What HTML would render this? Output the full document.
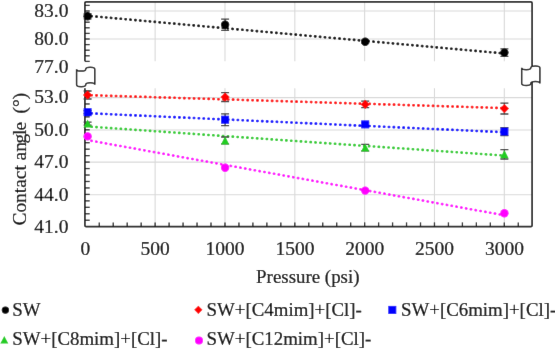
<!DOCTYPE html><html><head><meta charset="utf-8"><style>html,body{margin:0;padding:0;background:#fff;overflow:hidden;}svg{display:block;will-change:transform;}text{font-family:"Liberation Serif",serif;stroke:#000;stroke-width:0.2px;}</style></head><body>
<div id="w">
<svg width="555" height="350" viewBox="0 0 555 350">
<defs><filter id="bl" x="0" y="0" width="100%" height="100%" filterUnits="userSpaceOnUse"><feConvolveMatrix order="3" kernelMatrix="0.00276 0.04704 0.00276 0.04704 0.80077 0.04704 0.00276 0.04704 0.00276" edgeMode="duplicate" preserveAlpha="true"/></filter></defs>
<g filter="url(#bl)">
<rect x="0" y="0" width="555" height="350" fill="#fff"/>
<line x1="155.13" y1="1.8" x2="155.13" y2="61.3" stroke="#d9d9d9" stroke-width="1.1"/>
<line x1="155.13" y1="88.2" x2="155.13" y2="226.7" stroke="#d9d9d9" stroke-width="1.1"/>
<line x1="224.97" y1="1.8" x2="224.97" y2="61.3" stroke="#d9d9d9" stroke-width="1.1"/>
<line x1="224.97" y1="88.2" x2="224.97" y2="226.7" stroke="#d9d9d9" stroke-width="1.1"/>
<line x1="294.81" y1="1.8" x2="294.81" y2="61.3" stroke="#d9d9d9" stroke-width="1.1"/>
<line x1="294.81" y1="88.2" x2="294.81" y2="226.7" stroke="#d9d9d9" stroke-width="1.1"/>
<line x1="364.64" y1="1.8" x2="364.64" y2="61.3" stroke="#d9d9d9" stroke-width="1.1"/>
<line x1="364.64" y1="88.2" x2="364.64" y2="226.7" stroke="#d9d9d9" stroke-width="1.1"/>
<line x1="434.47" y1="1.8" x2="434.47" y2="61.3" stroke="#d9d9d9" stroke-width="1.1"/>
<line x1="434.47" y1="88.2" x2="434.47" y2="226.7" stroke="#d9d9d9" stroke-width="1.1"/>
<line x1="504.31" y1="1.8" x2="504.31" y2="61.3" stroke="#d9d9d9" stroke-width="1.1"/>
<line x1="504.31" y1="88.2" x2="504.31" y2="226.7" stroke="#d9d9d9" stroke-width="1.1"/>
<line x1="84.9" y1="11.00" x2="532.1" y2="11.00" stroke="#d9d9d9" stroke-width="1.1"/>
<line x1="84.9" y1="39.00" x2="532.1" y2="39.00" stroke="#d9d9d9" stroke-width="1.1"/>
<line x1="84.9" y1="97.60" x2="532.1" y2="97.60" stroke="#d9d9d9" stroke-width="1.1"/>
<line x1="84.9" y1="130.00" x2="532.1" y2="130.00" stroke="#d9d9d9" stroke-width="1.1"/>
<line x1="84.9" y1="162.10" x2="532.1" y2="162.10" stroke="#d9d9d9" stroke-width="1.1"/>
<line x1="84.9" y1="194.70" x2="532.1" y2="194.70" stroke="#d9d9d9" stroke-width="1.1"/>
<path d="M84.9,61.3 V3.1 Q84.9,1.8 86.2,1.8 H530.8000000000001 Q532.1,1.8 532.1,3.1 V70" fill="none" stroke="#1e1e1e" stroke-width="1.7"/>
<path d="M84.9,88.2 V225.39999999999998 Q84.9,226.7 86.2,226.7 H530.8000000000001 Q532.1,226.7 532.1,225.39999999999998 V80" fill="none" stroke="#1e1e1e" stroke-width="1.7"/>
<line x1="84.9" y1="5.40" x2="89.7" y2="5.40" stroke="#1e1e1e" stroke-width="1.3"/>
<line x1="84.9" y1="11.00" x2="89.7" y2="11.00" stroke="#1e1e1e" stroke-width="1.3"/>
<line x1="84.9" y1="16.60" x2="89.7" y2="16.60" stroke="#1e1e1e" stroke-width="1.3"/>
<line x1="84.9" y1="22.20" x2="89.7" y2="22.20" stroke="#1e1e1e" stroke-width="1.3"/>
<line x1="84.9" y1="27.80" x2="89.7" y2="27.80" stroke="#1e1e1e" stroke-width="1.3"/>
<line x1="84.9" y1="33.40" x2="89.7" y2="33.40" stroke="#1e1e1e" stroke-width="1.3"/>
<line x1="84.9" y1="39.00" x2="89.7" y2="39.00" stroke="#1e1e1e" stroke-width="1.3"/>
<line x1="84.9" y1="44.60" x2="89.7" y2="44.60" stroke="#1e1e1e" stroke-width="1.3"/>
<line x1="84.9" y1="50.20" x2="89.7" y2="50.20" stroke="#1e1e1e" stroke-width="1.3"/>
<line x1="84.9" y1="55.80" x2="89.7" y2="55.80" stroke="#1e1e1e" stroke-width="1.3"/>
<line x1="84.9" y1="61.40" x2="89.7" y2="61.40" stroke="#1e1e1e" stroke-width="1.3"/>
<line x1="84.9" y1="220.24" x2="89.7" y2="220.24" stroke="#1e1e1e" stroke-width="1.3"/>
<line x1="84.9" y1="213.78" x2="89.7" y2="213.78" stroke="#1e1e1e" stroke-width="1.3"/>
<line x1="84.9" y1="207.32" x2="89.7" y2="207.32" stroke="#1e1e1e" stroke-width="1.3"/>
<line x1="84.9" y1="200.86" x2="89.7" y2="200.86" stroke="#1e1e1e" stroke-width="1.3"/>
<line x1="84.9" y1="194.40" x2="89.7" y2="194.40" stroke="#1e1e1e" stroke-width="1.3"/>
<line x1="84.9" y1="187.94" x2="89.7" y2="187.94" stroke="#1e1e1e" stroke-width="1.3"/>
<line x1="84.9" y1="181.48" x2="89.7" y2="181.48" stroke="#1e1e1e" stroke-width="1.3"/>
<line x1="84.9" y1="175.02" x2="89.7" y2="175.02" stroke="#1e1e1e" stroke-width="1.3"/>
<line x1="84.9" y1="168.56" x2="89.7" y2="168.56" stroke="#1e1e1e" stroke-width="1.3"/>
<line x1="84.9" y1="162.10" x2="89.7" y2="162.10" stroke="#1e1e1e" stroke-width="1.3"/>
<line x1="84.9" y1="155.64" x2="89.7" y2="155.64" stroke="#1e1e1e" stroke-width="1.3"/>
<line x1="84.9" y1="149.18" x2="89.7" y2="149.18" stroke="#1e1e1e" stroke-width="1.3"/>
<line x1="84.9" y1="142.72" x2="89.7" y2="142.72" stroke="#1e1e1e" stroke-width="1.3"/>
<line x1="84.9" y1="136.26" x2="89.7" y2="136.26" stroke="#1e1e1e" stroke-width="1.3"/>
<line x1="84.9" y1="129.80" x2="89.7" y2="129.80" stroke="#1e1e1e" stroke-width="1.3"/>
<line x1="84.9" y1="123.34" x2="89.7" y2="123.34" stroke="#1e1e1e" stroke-width="1.3"/>
<line x1="84.9" y1="116.88" x2="89.7" y2="116.88" stroke="#1e1e1e" stroke-width="1.3"/>
<line x1="84.9" y1="110.42" x2="89.7" y2="110.42" stroke="#1e1e1e" stroke-width="1.3"/>
<line x1="84.9" y1="103.96" x2="89.7" y2="103.96" stroke="#1e1e1e" stroke-width="1.3"/>
<line x1="84.9" y1="97.50" x2="89.7" y2="97.50" stroke="#1e1e1e" stroke-width="1.3"/>
<line x1="84.9" y1="91.04" x2="89.7" y2="91.04" stroke="#1e1e1e" stroke-width="1.3"/>
<line x1="99.27" y1="226.7" x2="99.27" y2="222.39999999999998" stroke="#1e1e1e" stroke-width="1.3"/>
<line x1="113.23" y1="226.7" x2="113.23" y2="222.39999999999998" stroke="#1e1e1e" stroke-width="1.3"/>
<line x1="127.20" y1="226.7" x2="127.20" y2="222.39999999999998" stroke="#1e1e1e" stroke-width="1.3"/>
<line x1="141.17" y1="226.7" x2="141.17" y2="222.39999999999998" stroke="#1e1e1e" stroke-width="1.3"/>
<line x1="155.13" y1="226.7" x2="155.13" y2="222.39999999999998" stroke="#1e1e1e" stroke-width="1.3"/>
<line x1="169.10" y1="226.7" x2="169.10" y2="222.39999999999998" stroke="#1e1e1e" stroke-width="1.3"/>
<line x1="183.07" y1="226.7" x2="183.07" y2="222.39999999999998" stroke="#1e1e1e" stroke-width="1.3"/>
<line x1="197.04" y1="226.7" x2="197.04" y2="222.39999999999998" stroke="#1e1e1e" stroke-width="1.3"/>
<line x1="211.00" y1="226.7" x2="211.00" y2="222.39999999999998" stroke="#1e1e1e" stroke-width="1.3"/>
<line x1="224.97" y1="226.7" x2="224.97" y2="222.39999999999998" stroke="#1e1e1e" stroke-width="1.3"/>
<line x1="238.94" y1="226.7" x2="238.94" y2="222.39999999999998" stroke="#1e1e1e" stroke-width="1.3"/>
<line x1="252.90" y1="226.7" x2="252.90" y2="222.39999999999998" stroke="#1e1e1e" stroke-width="1.3"/>
<line x1="266.87" y1="226.7" x2="266.87" y2="222.39999999999998" stroke="#1e1e1e" stroke-width="1.3"/>
<line x1="280.84" y1="226.7" x2="280.84" y2="222.39999999999998" stroke="#1e1e1e" stroke-width="1.3"/>
<line x1="294.81" y1="226.7" x2="294.81" y2="222.39999999999998" stroke="#1e1e1e" stroke-width="1.3"/>
<line x1="308.77" y1="226.7" x2="308.77" y2="222.39999999999998" stroke="#1e1e1e" stroke-width="1.3"/>
<line x1="322.74" y1="226.7" x2="322.74" y2="222.39999999999998" stroke="#1e1e1e" stroke-width="1.3"/>
<line x1="336.71" y1="226.7" x2="336.71" y2="222.39999999999998" stroke="#1e1e1e" stroke-width="1.3"/>
<line x1="350.67" y1="226.7" x2="350.67" y2="222.39999999999998" stroke="#1e1e1e" stroke-width="1.3"/>
<line x1="364.64" y1="226.7" x2="364.64" y2="222.39999999999998" stroke="#1e1e1e" stroke-width="1.3"/>
<line x1="378.61" y1="226.7" x2="378.61" y2="222.39999999999998" stroke="#1e1e1e" stroke-width="1.3"/>
<line x1="392.57" y1="226.7" x2="392.57" y2="222.39999999999998" stroke="#1e1e1e" stroke-width="1.3"/>
<line x1="406.54" y1="226.7" x2="406.54" y2="222.39999999999998" stroke="#1e1e1e" stroke-width="1.3"/>
<line x1="420.51" y1="226.7" x2="420.51" y2="222.39999999999998" stroke="#1e1e1e" stroke-width="1.3"/>
<line x1="434.47" y1="226.7" x2="434.47" y2="222.39999999999998" stroke="#1e1e1e" stroke-width="1.3"/>
<line x1="448.44" y1="226.7" x2="448.44" y2="222.39999999999998" stroke="#1e1e1e" stroke-width="1.3"/>
<line x1="462.41" y1="226.7" x2="462.41" y2="222.39999999999998" stroke="#1e1e1e" stroke-width="1.3"/>
<line x1="476.38" y1="226.7" x2="476.38" y2="222.39999999999998" stroke="#1e1e1e" stroke-width="1.3"/>
<line x1="490.34" y1="226.7" x2="490.34" y2="222.39999999999998" stroke="#1e1e1e" stroke-width="1.3"/>
<line x1="504.31" y1="226.7" x2="504.31" y2="222.39999999999998" stroke="#1e1e1e" stroke-width="1.3"/>
<line x1="518.28" y1="226.7" x2="518.28" y2="222.39999999999998" stroke="#1e1e1e" stroke-width="1.3"/>
<text x="68.4" y="16.5" font-size="19.5" text-anchor="end" fill="#000" stroke="#000" stroke-width="0.2">83.0</text>
<text x="68.4" y="44.5" font-size="19.5" text-anchor="end" fill="#000" stroke="#000" stroke-width="0.2">80.0</text>
<text x="68.4" y="72.5" font-size="19.5" text-anchor="end" fill="#000" stroke="#000" stroke-width="0.2">77.0</text>
<text x="68.4" y="103.4" font-size="19.5" text-anchor="end" fill="#000" stroke="#000" stroke-width="0.2">53.0</text>
<text x="68.4" y="135.9" font-size="19.5" text-anchor="end" fill="#000" stroke="#000" stroke-width="0.2">50.0</text>
<text x="68.4" y="168.3" font-size="19.5" text-anchor="end" fill="#000" stroke="#000" stroke-width="0.2">47.0</text>
<text x="68.4" y="200.7" font-size="19.5" text-anchor="end" fill="#000" stroke="#000" stroke-width="0.2">44.0</text>
<text x="68.4" y="233.3" font-size="19.5" text-anchor="end" fill="#000" stroke="#000" stroke-width="0.2">41.0</text>
<text x="85.40" y="255.1" font-size="19.5" text-anchor="middle" fill="#000" stroke="#000" stroke-width="0.2">0</text>
<text x="155.23" y="255.1" font-size="19.5" text-anchor="middle" fill="#000" stroke="#000" stroke-width="0.2">500</text>
<text x="225.07" y="255.1" font-size="19.5" text-anchor="middle" fill="#000" stroke="#000" stroke-width="0.2">1000</text>
<text x="294.91" y="255.1" font-size="19.5" text-anchor="middle" fill="#000" stroke="#000" stroke-width="0.2">1500</text>
<text x="364.74" y="255.1" font-size="19.5" text-anchor="middle" fill="#000" stroke="#000" stroke-width="0.2">2000</text>
<text x="434.57" y="255.1" font-size="19.5" text-anchor="middle" fill="#000" stroke="#000" stroke-width="0.2">2500</text>
<text x="504.41" y="255.1" font-size="19.5" text-anchor="middle" fill="#000" stroke="#000" stroke-width="0.2">3000</text>
<text x="307.8" y="282.8" font-size="18.9" text-anchor="middle" fill="#000">Pressure (psi)</text>
<text transform="translate(25.6,159.2) rotate(-90)" x="0" y="0" font-size="19.4" text-anchor="middle" fill="#000">Contact an<tspan dx="-1.4">g</tspan><tspan dx="-1.1">l</tspan><tspan dx="-1">e</tspan><tspan dx="3.5"> (°)</tspan></text>
<line x1="87.60" y1="15.80" x2="504.40" y2="53.50" stroke="#000000" stroke-width="2.6" stroke-linecap="round" stroke-dasharray="0.3 4.58" stroke-dashoffset="0.98"/>
<line x1="87.60" y1="95.10" x2="504.40" y2="108.10" stroke="#ff0000" stroke-width="2.6" stroke-linecap="round" stroke-dasharray="0.3 4.58" stroke-dashoffset="0.98"/>
<line x1="87.60" y1="113.20" x2="504.40" y2="132.20" stroke="#0000ff" stroke-width="2.6" stroke-linecap="round" stroke-dasharray="0.3 4.58" stroke-dashoffset="0.98"/>
<line x1="87.60" y1="126.50" x2="504.40" y2="155.60" stroke="#33cc33" stroke-width="2.6" stroke-linecap="round" stroke-dasharray="0.3 4.58" stroke-dashoffset="0.98"/>
<line x1="87.60" y1="140.10" x2="504.40" y2="215.30" stroke="#ff00ff" stroke-width="2.6" stroke-linecap="round" stroke-dasharray="0.3 4.58" stroke-dashoffset="0.98"/>
<path d="M83.60,13.80H91.60M87.60,13.80V18.80M83.60,18.80H91.60" stroke="#404040" stroke-width="1.3" fill="none"/>
<circle cx="87.60" cy="16.30" r="4.2" fill="#000000"/>
<path d="M221.10,19.20H229.10M225.10,19.20V30.40M221.10,30.40H229.10" stroke="#404040" stroke-width="1.3" fill="none"/>
<circle cx="225.10" cy="24.80" r="4.2" fill="#000000"/>
<path d="M361.20,40.20H369.20M365.20,40.20V43.20M361.20,43.20H369.20" stroke="#404040" stroke-width="1.3" fill="none"/>
<circle cx="365.20" cy="41.70" r="4.2" fill="#000000"/>
<path d="M500.40,48.80H508.40M504.40,48.80V56.40M500.40,56.40H508.40" stroke="#404040" stroke-width="1.3" fill="none"/>
<circle cx="504.40" cy="52.60" r="4.2" fill="#000000"/>
<path d="M83.60,91.00H91.60M87.60,91.00V99.00M83.60,99.00H91.60" stroke="#404040" stroke-width="1.3" fill="none"/>
<path d="M87.60,90.40L92.20,95.00L87.60,99.60L83.00,95.00Z" fill="#ff0000"/>
<path d="M221.10,92.70H229.10M225.10,92.70V101.50M221.10,101.50H229.10" stroke="#404040" stroke-width="1.3" fill="none"/>
<path d="M225.10,92.50L229.70,97.10L225.10,101.70L220.50,97.10Z" fill="#ff0000"/>
<path d="M361.20,101.10H369.20M365.20,101.10V107.70M361.20,107.70H369.20" stroke="#404040" stroke-width="1.3" fill="none"/>
<path d="M365.20,99.80L369.80,104.40L365.20,109.00L360.60,104.40Z" fill="#ff0000"/>
<path d="M500.40,103.20H508.40M504.40,103.20V114.00M500.40,114.00H508.40" stroke="#404040" stroke-width="1.3" fill="none"/>
<path d="M504.40,104.00L509.00,108.60L504.40,113.20L499.80,108.60Z" fill="#ff0000"/>
<path d="M83.60,110.70H91.60M87.60,110.70V113.70M83.60,113.70H91.60" stroke="#404040" stroke-width="1.3" fill="none"/>
<rect x="83.60" y="108.20" width="8.00" height="8.00" fill="#0000ff"/>
<path d="M221.10,113.80H229.10M225.10,113.80V125.60M221.10,125.60H229.10" stroke="#404040" stroke-width="1.3" fill="none"/>
<rect x="221.10" y="115.70" width="8.00" height="8.00" fill="#0000ff"/>
<path d="M361.20,122.90H369.20M365.20,122.90V125.90M361.20,125.90H369.20" stroke="#404040" stroke-width="1.3" fill="none"/>
<rect x="361.20" y="120.40" width="8.00" height="8.00" fill="#0000ff"/>
<path d="M500.40,127.60H508.40M504.40,127.60V135.60M500.40,135.60H508.40" stroke="#404040" stroke-width="1.3" fill="none"/>
<rect x="500.40" y="127.60" width="8.00" height="8.00" fill="#0000ff"/>
<path d="M83.60,122.10H91.60M87.60,122.10V125.10M83.60,125.10H91.60" stroke="#404040" stroke-width="1.3" fill="none"/>
<path d="M87.60,119.40L91.80,127.60L83.40,127.60Z" fill="#22cc22"/>
<path d="M221.10,137.00H229.10M225.10,137.00V143.80M221.10,143.80H229.10" stroke="#404040" stroke-width="1.3" fill="none"/>
<path d="M225.10,136.20L229.30,144.40L220.90,144.40Z" fill="#22cc22"/>
<path d="M361.20,144.30H369.20M365.20,144.30V150.90M361.20,150.90H369.20" stroke="#404040" stroke-width="1.3" fill="none"/>
<path d="M365.20,143.40L369.40,151.60L361.00,151.60Z" fill="#22cc22"/>
<path d="M500.40,149.60H508.40M504.40,149.60V159.00M500.40,159.00H508.40" stroke="#404040" stroke-width="1.3" fill="none"/>
<path d="M504.40,150.10L508.60,158.30L500.20,158.30Z" fill="#22cc22"/>
<circle cx="87.60" cy="136.40" r="4.2" fill="#ff00ff"/>
<circle cx="225.10" cy="167.80" r="4.2" fill="#ff00ff"/>
<circle cx="365.20" cy="190.60" r="4.2" fill="#ff00ff"/>
<circle cx="504.40" cy="213.30" r="4.2" fill="#ff00ff"/>
<path d="M76.60,69.15 A4.55,1.95 0 0 0 85.70,69.15 A4.55,1.95 0 0 1 94.80,69.15 L94.80,84.75 A4.55,1.95 0 0 0 85.70,84.75 A4.55,1.95 0 0 1 76.60,84.75 Z" fill="#fff" stroke="#1e1e1e" stroke-width="1.5" stroke-linejoin="miter" stroke-miterlimit="20"/>
<path d="M521.70,67.85 A4.55,1.95 0 0 0 530.80,67.85 A4.55,1.95 0 0 1 539.90,67.85 L539.90,83.45 A4.55,1.95 0 0 0 530.80,83.45 A4.55,1.95 0 0 1 521.70,83.45 Z" fill="#fff" stroke="#1e1e1e" stroke-width="1.5" stroke-linejoin="miter" stroke-miterlimit="20"/>
<circle cx="5.4" cy="310.1" r="3.7" fill="#000"/>
<text x="12.3" y="316.4" font-size="18.85" fill="#000">SW</text>
<path d="M198.35,305.7L202.45,309.8L198.35,313.9L194.25,309.8Z" fill="#ff0000"/>
<text x="206.6" y="316.4" font-size="18.85" fill="#000">SW+[C4mim]+[Cl]-</text>
<rect x="388.3" y="305.9" width="8" height="8" fill="#0000ff"/>
<text x="401" y="316.4" font-size="18.85" fill="#000">SW+[C6mim]+[Cl]-</text>
<path d="M4.3,335.9L8.3,343.6L0.3,343.6Z" fill="#22cc22"/>
<text x="12.3" y="344.5" font-size="18.85" fill="#000">SW+[C8mim]+[Cl]-</text>
<circle cx="199" cy="340.6" r="4" fill="#ff00ff"/>
<text x="206.6" y="344.5" font-size="18.85" fill="#000">SW+[C12mim]+[Cl]-</text>
</g></svg></div></body></html>
